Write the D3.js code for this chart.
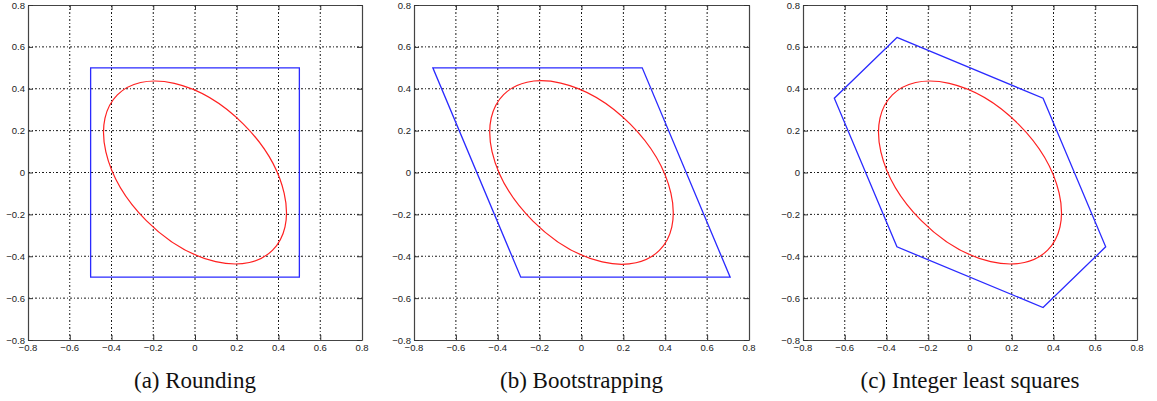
<!DOCTYPE html>
<html>
<head>
<meta charset="utf-8">
<script src="https://cdn.jsdelivr.net/npm/d3@7"></script>
<style>
  body { margin: 0; background: #fff; }
  svg { display: block; }
  .tick-label { font-family: "Liberation Sans", Arial, sans-serif; font-size: 9.5px; fill: #222; }
  .caption { font-family: "Liberation Serif", "Times New Roman", serif; font-size: 23px; fill: #111; }
</style>
</head>
<body>
<svg id="chart" width="1157" height="401"></svg>
<script>

// axis ticks, same on both axes of every panel
const tickValues = [-0.8, -0.6, -0.4, -0.2, 0, 0.2, 0.4, 0.6, 0.8];

// pull-in regions (corner points)
const roundingRegion = [[-0.5, 0.5], [0.5, 0.5], [0.5, -0.5], [-0.5, -0.5]];
const bootstrapRegion = [[-0.71, 0.5], [0.29, 0.5], [0.71, -0.5], [-0.29, -0.5]];
const ilsRegion = [[-0.35, 0.645], [0.35, 0.355], [0.65, -0.355], [0.35, -0.645], [-0.35, -0.355], [-0.65, 0.355]];

// confidence ellipse: centre, semi-axes (major, minor), angle of the major axis in degrees
const ellipseCenter = [0, 0];
const ellipseAxes = [0.526, 0.328];
const ellipseAngle = -45;

const captions = ["(a) Rounding", "(b) Bootstrapping", "(c) Integer least squares"];
const regions = [roundingRegion, bootstrapRegion, ilsRegion];

// panel boxes in pixels
const panels = [
  {left: 28, right: 362},
  {left: 414, right: 749},
  {left: 803, right: 1137}
];
const plotTop = 5, plotBottom = 340;

const svg = d3.select("#chart");

function fmt(d) {
  if (d === 0) return "0";
  return (d < 0 ? "\u2212" : "") + Math.abs(d).toFixed(1);
}

panels.forEach(function(p, i) {
  const x = d3.scaleLinear().domain([-0.8, 0.8]).range([p.left, p.right]);
  const y = d3.scaleLinear().domain([-0.8, 0.8]).range([plotBottom, plotTop]);
  const g = svg.append("g");

  // dotted grid on inner ticks
  const inner = tickValues.slice(1, -1);
  g.selectAll(".gx").data(inner).enter().append("line")
    .attr("x1", d => x(d)).attr("x2", d => x(d))
    .attr("y1", plotTop).attr("y2", plotBottom)
    .attr("stroke", "#000").attr("stroke-width", 0.9)
    .attr("stroke-dasharray", "2,2,1,2");
  g.selectAll(".gy").data(inner).enter().append("line")
    .attr("y1", d => y(d)).attr("y2", d => y(d))
    .attr("x1", p.left).attr("x2", p.right)
    .attr("stroke", "#000").attr("stroke-width", 0.9)
    .attr("stroke-dasharray", "2,2,1,2");

  // region polygon
  g.append("path")
    .attr("d", d3.line().x(d => x(d[0])).y(d => y(d[1])).curve(d3.curveLinearClosed)(regions[i]))
    .attr("fill", "none").attr("stroke", "#2a2aff").attr("stroke-width", 1.3);

  // ellipse
  g.append("ellipse")
    .attr("transform", "translate(" + x(ellipseCenter[0]) + "," + y(ellipseCenter[1]) + ") rotate(" + (-ellipseAngle) + ")")
    .attr("rx", x(ellipseAxes[0]) - x(0))
    .attr("ry", x(ellipseAxes[1]) - x(0))
    .attr("fill", "none").attr("stroke", "#ff2020").attr("stroke-width", 1.2);

  // axes with inward ticks on all four sides
  const tl = 5;
  g.append("g").attr("transform", "translate(0," + plotBottom + ")")
    .call(d3.axisBottom(x).tickValues(tickValues).tickSize(-tl).tickSizeOuter(0).tickFormat(""));
  g.append("g").attr("transform", "translate(0," + plotTop + ")")
    .call(d3.axisTop(x).tickValues(tickValues).tickSize(-tl).tickSizeOuter(0).tickFormat(""));
  g.append("g").attr("transform", "translate(" + p.left + ",0)")
    .call(d3.axisLeft(y).tickValues(tickValues).tickSize(-tl).tickSizeOuter(0).tickFormat(""));
  g.append("g").attr("transform", "translate(" + p.right + ",0)")
    .call(d3.axisRight(y).tickValues(tickValues).tickSize(-tl).tickSizeOuter(0).tickFormat(""));
  g.selectAll(".domain").attr("stroke", "#444").attr("stroke-width", 1.2);
  g.selectAll(".tick line").attr("stroke", "#333");

  // tick labels
  g.selectAll(".xl").data(tickValues).enter().append("text")
    .attr("class", "tick-label")
    .attr("x", d => x(d)).attr("y", plotBottom + 11)
    .attr("text-anchor", "middle")
    .text(fmt);
  g.selectAll(".yl").data(tickValues).enter().append("text")
    .attr("class", "tick-label")
    .attr("x", p.left - 3).attr("y", d => y(d) + 3.5)
    .attr("text-anchor", "end")
    .text(fmt);

  // caption
  g.append("text").attr("class", "caption")
    .attr("x", (p.left + p.right) / 2).attr("y", 388)
    .attr("text-anchor", "middle")
    .text(captions[i]);
});
</script>
</body>
</html>
